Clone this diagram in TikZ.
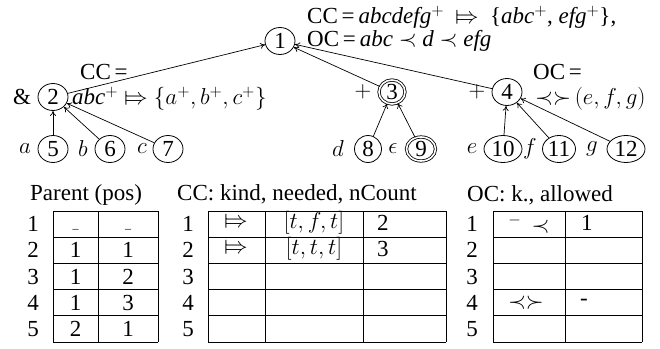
\RequirePackage{fix-cm}
\documentclass[tikz,border=0pt]{standalone}
\usepackage{fontspec}
\setmainfont{Liberation Serif}
\usepackage{stmaryrd}
\usetikzlibrary{shapes.geometric,arrows.meta}
\begin{document}
\begin{tikzpicture}[x=1pt,y=-1pt, font=\fontsize{23}{27}\selectfont,
  nd/.style={ellipse, draw, line width=0.8pt, inner sep=0pt, minimum width=30pt, minimum height=27pt},
  wide/.style={nd, minimum width=38pt},
  dbl/.style={nd, double, double distance=1.6pt, minimum width=26pt, minimum height=24pt},
  lbl/.style={inner sep=0pt},
  ar/.style={-{To[length=5pt,width=6pt]}, line width=0.7pt},
  tbl/.style={line width=0.8pt}]
\useasboundingbox (0,0) rectangle (660,348);

% tree nodes
\node[nd] (n1) at (280,41) {1};
\node[nd] (n2) at (53,97) {2};
\node[dbl] (n3) at (392,92) {3};
\node[nd] (n4) at (507,92) {4};
\node[nd] (n5) at (53,149) {5};
\node[nd] (n6) at (110,149) {6};
\node[nd] (n7) at (168,149) {7};
\node[nd, minimum width=27pt] (n8) at (368,149) {8};
\node[dbl, minimum width=29pt] (n9) at (421,149) {9};
\node[wide] (n10) at (503,149) {10};
\node[nd, minimum width=33pt] (n11) at (559,149) {11};
\node[wide] (n12) at (626,149) {12};

% side labels
\node[lbl] (amp) at (22,97) {\&};
\node[lbl] (p3) at (363,92) {$+$};
\node[lbl] (p4) at (477,92) {$+$};
\node[lbl] (la) at (25,149) {$a$};
\node[lbl] (lb) at (83,149) {$b$};
\node[lbl] (lc) at (142,149) {$c$};
\node[lbl] (ld) at (338,149) {$d$};
\node[lbl] (leps) at (393,149) {$\epsilon$};
\node[lbl] (le) at (472,149) {$e$};
\node[lbl] (lf) at (530,149) {$f$};
\node[lbl] (lg) at (592,149) {$g$};

% annotations
\node[lbl, anchor=west] (top1) at (307,17) {CC\,=\,\textit{abcdefg}$^+$ \ $\Mapsto$ \ \{\textit{abc}$^+$, \textit{efg}$^+$\},};
\node[lbl, anchor=west] (top2) at (307,41) {OC\,=\,\textit{abc} $\prec$ \textit{d} $\prec$ \textit{efg}};
\node[lbl, anchor=west] (cc2a) at (80,72) {CC\,=};
\node[lbl, anchor=west] (cc2b) at (72,99) {\textit{abc}$^+\Mapsto\{a^+,b^+,c^+\}$};
\node[lbl, anchor=west] (oc4a) at (533,72) {OC\,=};
\node[lbl, anchor=west] (oc4b) at (535,99) {$\prec\succ$\,$(e,f,g)$};

% edges
\draw[ar] (n2) -- (n1);
\draw[ar] (n3) -- (n1);
\draw[ar] (n4) -- (n1);
\draw[ar] (n5) -- (n2);
\draw[ar] (n6) -- (n2);
\draw[ar] (n7) -- (n2);
\draw[ar] (n8) -- (n3);
\draw[ar] (n9) -- (n3);
\draw[ar] (n10) -- (n4);
\draw[ar] (n11) -- (n4);
\draw[ar] (n12) -- (n4);

% tables
\def\rh{26.2}
\node[lbl, anchor=west] (tp) at (30,195) {Parent (pos)};
\node[lbl, anchor=west] (tc) at (177,194) {CC: kind, needed, nCount};
\node[lbl, anchor=west] (to) at (467,195) {OC: k., allowed};

\foreach \i in {1,...,5} {
  \node[lbl] (rp\i) at (33,{211+(\i-0.5)*\rh}) {\i};
  \node[lbl] (rc\i) at (188,{211+(\i-0.5)*\rh}) {\i};
  \node[lbl] (ro\i) at (472,{211+(\i-0.5)*\rh}) {\i};
}
\foreach \i in {0,...,5} {
  \draw[tbl] (53,{211+\i*\rh}) -- (158,{211+\i*\rh});
  \draw[tbl] (208,{211+\i*\rh}) -- (446,{211+\i*\rh});
  \draw[tbl] (493,{211+\i*\rh}) -- (642,{211+\i*\rh});
}
\foreach \x in {53,98,158,208,265,363,446,493,565,642} {
  \draw[tbl] (\x,211) -- (\x,{211+5*\rh});
}

% Parent cells
\node[lbl] (pa1) at (75.5,229) {\fontsize{12}{14}\selectfont\_};
\node[lbl] (pb1) at (128,229) {\fontsize{12}{14}\selectfont\_};
\node[lbl] (pa2) at (75.5,{211+1.5*\rh}) {1};
\node[lbl] (pb2) at (128,{211+1.5*\rh}) {1};
\node[lbl] (pa3) at (75.5,{211+2.5*\rh}) {1};
\node[lbl] (pb3) at (128,{211+2.5*\rh}) {2};
\node[lbl] (pa4) at (75.5,{211+3.5*\rh}) {1};
\node[lbl] (pb4) at (128,{211+3.5*\rh}) {3};
\node[lbl] (pa5) at (75.5,{211+4.5*\rh}) {2};
\node[lbl] (pb5) at (128,{211+4.5*\rh}) {1};

% CC cells
\node[lbl] (ca1) at (236,{211+0.45*\rh}) {$\Mapsto$};
\node[lbl] (cb1) at (314,{211+0.45*\rh}) {$[t,f,t]$};
\node[lbl, anchor=west] (cn1) at (377,{211+0.45*\rh}) {2};
\node[lbl] (ca2) at (236,{211+1.45*\rh}) {$\Mapsto$};
\node[lbl] (cb2) at (314,{211+1.45*\rh}) {$[t,t,t]$};
\node[lbl, anchor=west] (cn2) at (377,{211+1.45*\rh}) {3};

% OC cells
\node[lbl] (oa1) at (529,{211+0.5*\rh}) {$^{-}\,\prec$};
\node[lbl, anchor=west] (ob1) at (581,{211+0.45*\rh}) {1};
\node[lbl] (oa4) at (526,{211+3.5*\rh}) {$\prec\succ$};
\node[lbl, anchor=west] (ob4) at (580,{211+3.5*\rh}) {-};
\end{tikzpicture}
\end{document}
